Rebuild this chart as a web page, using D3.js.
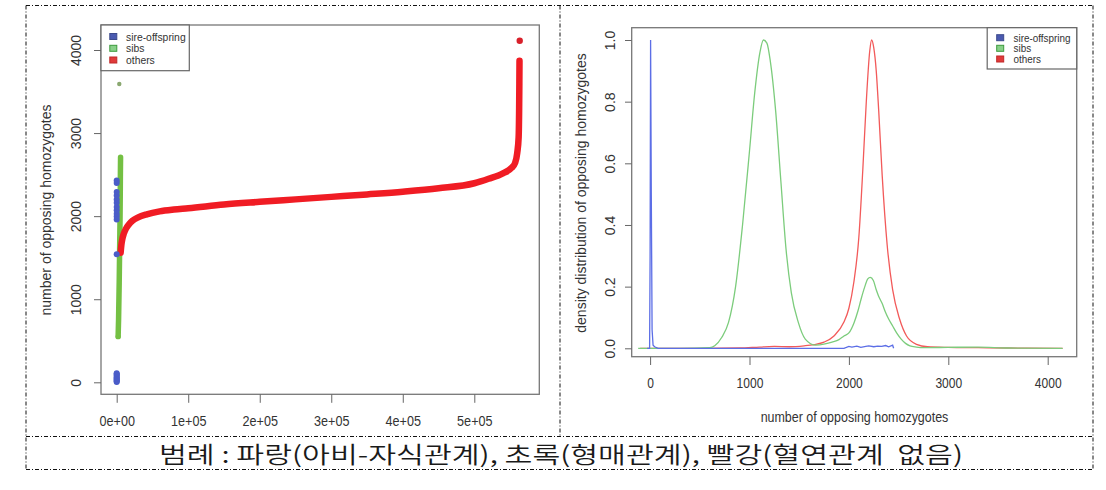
<!DOCTYPE html>
<html><head><meta charset="utf-8">
<script src="https://cdn.jsdelivr.net/npm/d3@7"></script>
<style>body{margin:0;background:#fff}svg{display:block}</style>
</head><body>
<svg id="c" width="1106" height="490"></svg>
<script>
// ---------- data ----------
const seriesNames = ["sire-offspring", "sibs", "others"];
const captionText = "범례 : 파랑(아비-자식관계), 초록(형매관계), 빨강(혈연관계  없음)";

// left panel: sorted number of opposing homozygotes by pair index
const sireIdx = [0,0,0,0,0,0,0,0,0,0,0,0,0,0,0,0,0,0,0,0,0,0];
const sireVal = [3,14,26,38,50,62,75,88,100,110,1540,1960,1995,2030,2070,2110,2160,2200,2250,2290,2400,2430];
const sibsIdx = [2000,2300,2600,2900,3200,3500,3800,4100,4400,4700,5000,5200,5400];
const sibsVal = [550,650,750,900,1050,1200,1400,1600,1800,2000,2300,2550,2710];
const sibsOutIdx = [3600];
const sibsOutVal = [3590];
const othersIdx = [5500,6500,8000,10000,13000,17000,22000,30000,42000,60000,80000,100000,150000,200000,250000,300000,350000,400000,450000,500000,520000,540000,552000,557000,560000,562000,562700,563000,563200];
const othersVal = [1560,1650,1730,1790,1850,1900,1945,1985,2022,2058,2080,2095,2140,2172,2202,2232,2262,2294,2335,2396,2450,2515,2580,2640,2760,2950,3300,3600,3870];
const othersOutIdx = [563500];
const othersOutVal = [4112];
const leftXTicks = [0,100000,200000,300000,400000,500000];
const leftXLabels = ["0e+00","1e+05","2e+05","3e+05","4e+05","5e+05"];
const leftYTicks = [0,1000,2000,3000,4000];

// right panel: density curves (scaled to max 1)
const densSireX = [-30,-5,0,5,12,20,30,45,80,1500,1950,2000,2030,2080,2120,2170,2200,2250,2290,2330,2370,2400,2440,2450];
const densSireY = [0,0,0.3,1.0,0.5,0.06,0.01,0.005,0,0,0,0.006,0.004,0.007,0.003,0.006,0.008,0.005,0.007,0.006,0.009,0.005,0.01,0];
const densSibsX = [-120,0,300,600,650,720,789,860,930,1000,1053,1105,1140,1175,1210,1263,1316,1368,1421,1491,1561,1667,1760,1830,1900,1950,2000,2053,2090,2123,2160,2190,2215,2246,2275,2298,2335,2368,2400,2439,2480,2526,2570,2614,2680,2750,3000,3300,3600,4150];
const densSibsY = [0,0,0,0.002,0.008,0.035,0.084,0.2,0.4,0.64,0.83,0.96,1.0,0.99,0.93,0.77,0.54,0.32,0.18,0.084,0.03,0.01,0.014,0.02,0.028,0.04,0.05,0.084,0.12,0.16,0.2,0.225,0.23,0.22,0.19,0.17,0.145,0.117,0.095,0.073,0.05,0.03,0.016,0.008,0.004,0.002,0.003,0.004,0.001,0];
const densOthX = [-100,0,500,900,1100,1250,1400,1550,1650,1750,1850,1950,2000,2050,2100,2140,2175,2210,2228,2250,2275,2300,2335,2385,2440,2510,2580,2680,2790,3000,3300,3600,4150];
const densOthY = [0,0,0,0.001,0.004,0.006,0.005,0.008,0.012,0.02,0.04,0.085,0.13,0.215,0.36,0.58,0.8,0.965,1.0,0.975,0.9,0.77,0.56,0.335,0.19,0.095,0.04,0.013,0.005,0.003,0.002,0.001,0];
const rightXTicks = [0,1000,2000,3000,4000];
const rightYTicks = [0,0.2,0.4,0.6,0.8,1.0];

// ---------- drawing ----------
const svg = d3.select("#c");
const FONT = "'Liberation Sans', Arial, sans-serif";
const zip = (a,b) => a.map((v,i)=>[v,b[i]]);
const squeeze = (sel,k) => sel.each(function(){
  const L = this.getComputedTextLength();
  d3.select(this).attr("textLength", L*k).attr("lengthAdjust","spacingAndGlyphs");
});

// dashed frames
const frame = svg.append("g").attr("fill","none").attr("stroke","#111").attr("stroke-width",1).attr("stroke-dasharray","4,2,1,2");
[[26,5.5,1093,5.5],[26,5.5,26,469.5],[1093,5.5,1093,469.5],[560,5.5,560,436.5],[26,436.5,1093,436.5],[26,469.5,1093,469.5]]
  .forEach(l=>frame.append("line").attr("x1",l[0]).attr("y1",l[1]).attr("x2",l[2]).attr("y2",l[3]));

const colors = {blue:"#4a5cc8", green:"#74c043", red:"#f01c24"};

// ---------------- LEFT PANEL ----------------
const L = {x0:101, x1:539.3, y0:25, y1:394.3};
const xL = d3.scaleLinear().domain([0,500000]).range([116.7,474.3]);
const yL = d3.scaleLinear().domain([0,4000]).range([382.3,50]);
const gl = svg.append("g");

const lineL = d3.line().x(d=>xL(d[0])).y(d=>yL(d[1])).curve(d3.curveMonotoneX);
// sibs band
gl.append("path").datum(zip(sibsIdx,sibsVal)).attr("d",lineL)
  .attr("fill","none").attr("stroke",colors.green).attr("stroke-width",5.5).attr("stroke-linecap","round");
gl.selectAll(".so").data(zip(sibsOutIdx,sibsOutVal)).join("circle")
  .attr("cx",d=>xL(d[0])).attr("cy",d=>yL(d[1])).attr("r",2.2).attr("fill","#8aa870");
gl.selectAll(".sb0").data([[sibsIdx[0],sibsVal[0]]]).join("circle")
  .attr("cx",d=>xL(d[0])).attr("cy",d=>yL(d[1])).attr("r",2.5).attr("fill",colors.green);
// others curve
gl.append("path").datum(zip(othersIdx,othersVal)).attr("d",lineL)
  .attr("fill","none").attr("stroke",colors.red).attr("stroke-width",6.5)
  .attr("stroke-linecap","round").attr("stroke-linejoin","round");
gl.selectAll(".oo").data(zip(othersOutIdx,othersOutVal)).join("circle")
  .attr("cx",d=>xL(d[0])).attr("cy",d=>yL(d[1])).attr("r",3.2).attr("fill","#d8202a");
// sire-offspring points
gl.selectAll(".sp").data(zip(sireIdx,sireVal)).join("circle")
  .attr("cx",d=>xL(d[0])).attr("cy",d=>yL(d[1])).attr("r",3).attr("fill",colors.blue);

// box
gl.append("rect").attr("x",L.x0).attr("y",L.y0).attr("width",L.x1-L.x0).attr("height",L.y1-L.y0)
  .attr("fill","none").attr("stroke","#777").attr("stroke-width",1.3);

// axes
const axXL = gl.append("g").attr("transform",`translate(0,${L.y1})`)
  .call(d3.axisBottom(xL).tickValues(leftXTicks).tickFormat((d,i)=>leftXLabels[i]).tickSize(8.5).tickSizeOuter(0));
axXL.select(".domain").remove();
axXL.selectAll("line").attr("stroke","#666");
axXL.selectAll("text").attr("y",26.7).attr("dy","0.35em").attr("font-family",FONT).attr("font-size",14).attr("fill","#333")
  .call(squeeze,0.9);

const axYL = gl.append("g").attr("transform",`translate(${L.x0},0)`)
  .call(d3.axisLeft(yL).tickValues(leftYTicks).tickFormat(d3.format("d")).tickSize(7).tickSizeOuter(0));
axYL.select(".domain").remove();
axYL.selectAll("line").attr("stroke","#666");
axYL.selectAll("text").attr("x",0).attr("y",-25).attr("dy","0.35em").attr("transform","rotate(-90)")
  .attr("text-anchor","middle").attr("font-family",FONT).attr("font-size",14).attr("fill","#333");

gl.append("text").attr("transform","translate(46.5,210) rotate(-90)").attr("text-anchor","middle").attr("dy","0.35em")
  .attr("font-family",FONT).attr("font-size",14).attr("fill","#333").text("number of opposing homozygotes");

// legend
const legColors = [["#3c4a8c","#4a5ab0"],["#3d9a3d","#88d088"],["#c02828","#e03a3a"]];
function legend(g, x0, y0, x1, y1, sqx, tx, rows, k){
  g.append("rect").attr("x",x0).attr("y",y0).attr("width",x1-x0).attr("height",y1-y0)
    .attr("fill","#fff").attr("stroke","#666").attr("stroke-width",1.2);
  seriesNames.forEach((n,i)=>{
    g.append("rect").attr("x",sqx-3.5).attr("y",rows[i]-3).attr("width",7).attr("height",6)
      .attr("fill",legColors[i][1]).attr("stroke",legColors[i][0]).attr("stroke-width",1);
    g.append("text").attr("x",tx).attr("y",rows[i]).attr("dy","0.35em").attr("font-family",FONT)
      .attr("font-size",11.5).attr("fill","#333").text(n).call(squeeze,k);
  });
}
legend(gl,101,25,189.3,70.7,113.3,126,[36.5,48.3,60],0.9);

// ---------------- RIGHT PANEL ----------------
const R = {x0:631.7, x1:1076.7, y0:27.7, y1:356.7};
const xR = d3.scaleLinear().domain([0,4000]).range([650.1,1047.7]);
const yR = d3.scaleLinear().domain([0,1]).range([348.3,40]);
const gr = svg.append("g");
const lineR = d3.line().x(d=>xR(d[0])).y(d=>yR(d[1])).curve(d3.curveMonotoneX);
const lineRlin = d3.line().x(d=>xR(d[0])).y(d=>yR(d[1]));
gr.append("path").datum(zip(densOthX,densOthY)).attr("d",lineR).attr("fill","none").attr("stroke","#f25a5a").attr("stroke-width",1.3);
gr.append("path").datum(zip(densSibsX,densSibsY)).attr("d",lineR).attr("fill","none").attr("stroke","#7ccc7c").attr("stroke-width",1.3);
gr.append("path").datum(zip(densSireX,densSireY)).attr("d",lineRlin).attr("fill","none").attr("stroke","#5c6ee6").attr("stroke-width",1.3);

gr.append("rect").attr("x",R.x0).attr("y",R.y0).attr("width",R.x1-R.x0).attr("height",R.y1-R.y0)
  .attr("fill","none").attr("stroke","#777").attr("stroke-width",1.3);

const axXR = gr.append("g").attr("transform",`translate(0,${R.y1})`)
  .call(d3.axisBottom(xR).tickValues(rightXTicks).tickFormat(d3.format("d")).tickSize(8.3).tickSizeOuter(0));
axXR.select(".domain").remove();
axXR.selectAll("line").attr("stroke","#666");
axXR.selectAll("text").attr("y",26.3).attr("dy","0.35em").attr("font-family",FONT).attr("font-size",14).attr("fill","#333")
  .call(squeeze,0.86);

const axYR = gr.append("g").attr("transform",`translate(${R.x0},0)`)
  .call(d3.axisLeft(yR).tickValues(rightYTicks).tickFormat(d3.format(".1f")).tickSize(6.7).tickSizeOuter(0));
axYR.select(".domain").remove();
axYR.selectAll("line").attr("stroke","#666");
axYR.selectAll("text").attr("x",0).attr("y",-21.7).attr("dy","0.35em").attr("transform","rotate(-90)")
  .attr("text-anchor","middle").attr("font-family",FONT).attr("font-size",14).attr("fill","#333");

gr.append("text").attr("transform","translate(581.5,193) rotate(-90)").attr("text-anchor","middle").attr("dy","0.35em")
  .attr("font-family",FONT).attr("font-size",14).attr("fill","#333").text("density distribution of opposing homozygotes");
gr.append("text").attr("x",854.5).attr("y",417.5).attr("text-anchor","middle").attr("dy","0.35em")
  .attr("font-family",FONT).attr("font-size",14).attr("fill","#333").text("number of opposing homozygotes").call(squeeze,0.89);

legend(gr,987.2,27.7,1076.7,69,1000.2,1013.5,[37.7,48.3,59],0.86);

// ---------------- CAPTION ----------------
svg.append("text").attr("x",159).attr("y",455).attr("dy","0.35em")
  .attr("font-family","'Noto Sans CJK KR', sans-serif").attr("font-size",23).attr("font-weight",350).attr("fill","#1a1a1a")
  .style("white-space","pre").attr("textLength",804).attr("lengthAdjust","spacingAndGlyphs")
  .text(captionText);
</script>
</body></html>
